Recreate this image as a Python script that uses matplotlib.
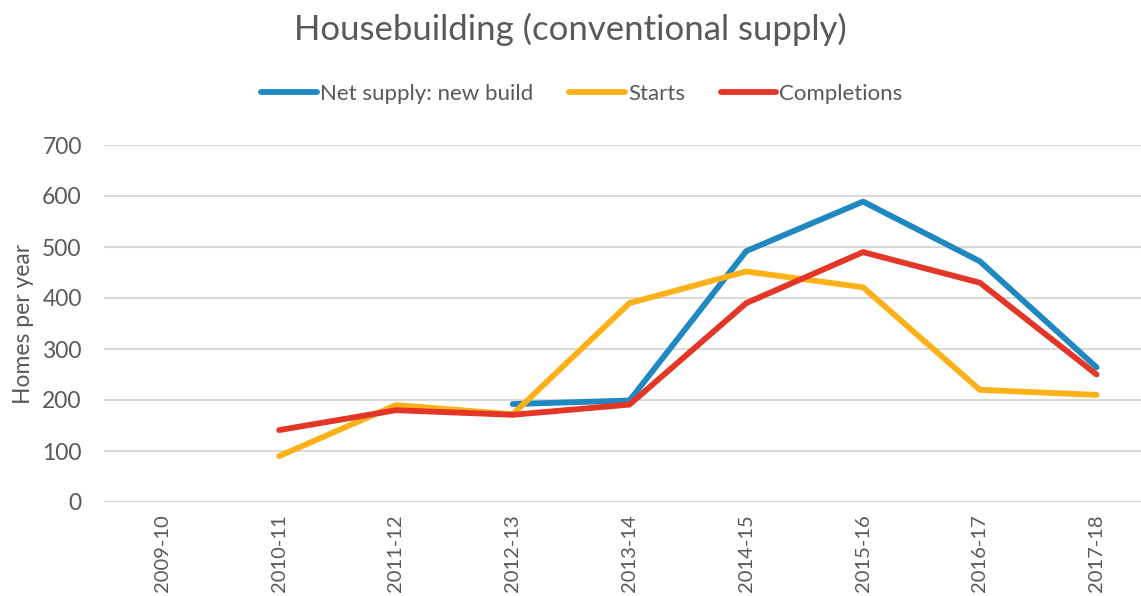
import matplotlib.pyplot as plt
import numpy as np

plt.rcParams["font.family"] = ["Lato", "DejaVu Sans"]

years = ["2009-10", "2010-11", "2011-12", "2012-13", "2013-14",
         "2014-15", "2015-16", "2016-17", "2017-18"]
net_supply = [np.nan, np.nan, np.nan, 192, 199, 492, 589, 472, 264]
starts = [np.nan, 90, 190, 172, 390, 452, 421, 220, 210]
completions = [np.nan, 141, 180, 171, 191, 390, 490, 430, 250]

grey = "#595959"
fig = plt.figure(figsize=(11.41, 5.96), dpi=100)
ax = fig.add_axes([104 / 1141, 1 - 502 / 596, 1051 / 1141, 357 / 596])

x = np.arange(len(years))
ax.plot(x, net_supply, color="#1F88C0", linewidth=4.2, label="Net supply: new build",
        solid_capstyle="round")
ax.plot(x, starts, color="#FBB117", linewidth=4.2, label="Starts", solid_capstyle="round")
ax.plot(x, completions, color="#E43627", linewidth=4.2, label="Completions",
        solid_capstyle="round")

ax.set_xlim(-0.5, len(years) - 0.5)
ax.set_ylim(0, 700)
ax.set_yticks(range(0, 701, 100))
ax.set_xticks(x)
ax.set_xticklabels(years, rotation=90, va="top")
ax.grid(axis="y", color="#D9D9D9", linewidth=1.5)
ax.set_axisbelow(True)
for s in ax.spines.values():
    s.set_visible(False)
ax.tick_params(axis="y", length=0, labelsize=16.5, colors=grey, pad=16)
ax.tick_params(axis="x", length=0, labelsize=14.5, colors=grey, pad=9)
ax.set_ylabel("Homes per year", fontsize=16.5, color=grey, labelpad=6)

fig.suptitle("Housebuilding (conventional supply)", fontsize=25, color=grey, y=0.978)
fig.legend(loc="center", bbox_to_anchor=(582 / 1141, 1 - 94 / 596), ncol=3,
           frameon=False, fontsize=16, labelcolor=grey, handlelength=2.5,
           handletextpad=0.15, columnspacing=1.6)

fig.savefig("out.png", dpi=100)
